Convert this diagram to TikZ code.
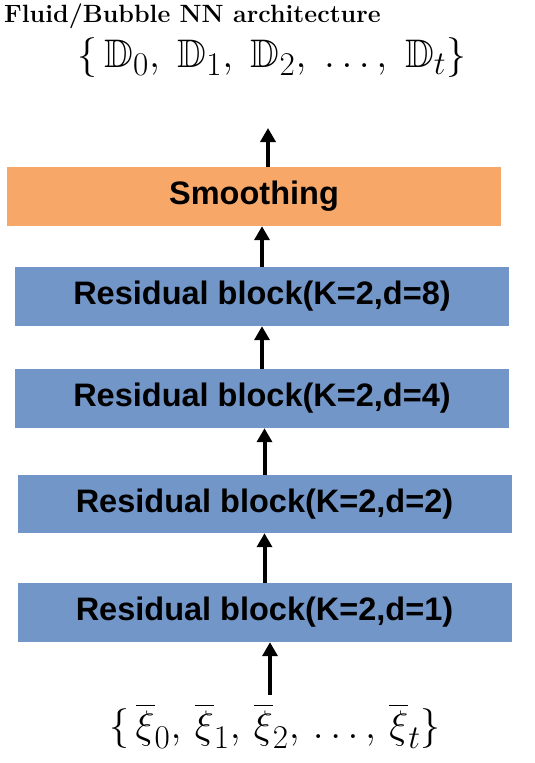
\documentclass[tikz,border=0pt]{standalone}
\usepackage{amssymb}
\usepackage{fontspec}
\setsansfont{Liberation Sans}
\usetikzlibrary{arrows.meta}

\definecolor{blockblue}{RGB}{114,150,200}
\definecolor{smoothorange}{RGB}{247,168,105}

\tikzset{
  layer/.style={minimum width=494pt, minimum height=59pt, inner sep=0pt,
    font=\sffamily\bfseries\fontsize{32.5}{38}\selectfont},
  seq/.style={inner sep=0pt, scale=1.6, transform shape, font=\fontsize{24.88}{30}\selectfont},
  flow/.style={line width=4pt, -{Triangle[width=15pt,length=14pt]}}
}

\begin{document}
\begin{tikzpicture}[x=1pt, y=-1pt]
  \useasboundingbox (0,0) rectangle (535,763);
  % title and output sequence
  \node[anchor=west, inner sep=0pt, font=\bfseries\fontsize{25}{30}\selectfont] (title) at (4,16) {Fluid/Bubble NN architecture};
  \node[seq] (out) at (272,58) {$\{\,\mathbb{D}_0,\;\mathbb{D}_1,\;\mathbb{D}_2,\;\ldots,\;\mathbb{D}_t\}$};
  \coordinate (outin) at (268,128);
  % layers
  \node[layer, fill=smoothorange] (smooth) at (254,196.5) {Smoothing};
  \node[layer, fill=blockblue] (res8) at (262,296.5) {Residual block(K=2,d=8)};
  \node[layer, fill=blockblue] (res4) at (262,398.5) {Residual block(K=2,d=4)};
  \node[layer, fill=blockblue, minimum height=58pt] (res2) at (264.5,504) {Residual block(K=2,d=2)};
  \node[layer, fill=blockblue] (res1) at (264.5,612.5) {Residual block(K=2,d=1)};
  % input sequence
  \node[seq] (in) at (275,726) {$\{\,\overline{\xi}_0,\,\overline{\xi}_1,\,\overline{\xi}_2,\,\ldots,\,\overline{\xi}_t\}$};
  \coordinate (inout) at (270,695);
  % arrows
  \draw[flow] (inout) -- (inout |- res1.south);
  \draw[flow] (res1.north) -- (res1.north |- res2.south);
  \draw[flow] (res2.north) -- (res2.north |- res4.south);
  \draw[flow] (res4.north) -- (res4.north |- res8.south);
  \draw[flow] (res8.north) -- (res8.north |- smooth.south);
  \draw[flow] (smooth.north -| outin) -- (outin);
\end{tikzpicture}
\end{document}
